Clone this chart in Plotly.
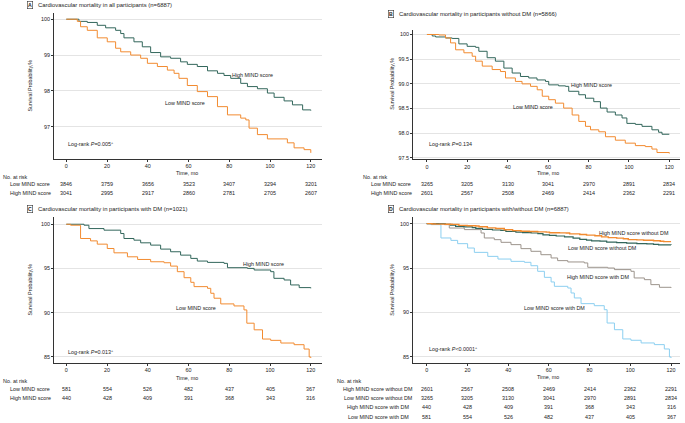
import plotly.graph_objects as go

W, H = 685, 423

# ---------------- data ----------------
# Panel A: all participants
a_high_t = [0, 6.2, 10.3, 15.2, 19.3, 24.2, 26.7, 28.3, 33.2, 37.3, 41.4, 46.3, 51.2, 56.1, 59.4, 64.3, 69.3, 74.2, 77.4, 80.7, 85.6, 88.9, 93.8, 98.7, 102.0, 106.9, 111.0, 116.0, 120]
a_high_s = [100, 99.94, 99.91, 99.83, 99.76, 99.69, 99.60, 99.48, 99.37, 99.23, 99.07, 98.95, 98.91, 98.81, 98.74, 98.68, 98.56, 98.49, 98.43, 98.35, 98.21, 98.12, 98.06, 97.94, 97.82, 97.72, 97.61, 97.47, 97.45]
a_low_t = [0, 5.4, 7.0, 10.3, 15.2, 20.1, 24.2, 26.7, 31.6, 36.5, 39.8, 44.7, 49.6, 52.9, 55.3, 59.4, 64.3, 69.3, 74.2, 79.1, 85.6, 88.1, 89.7, 93.8, 98.7, 108.5, 111.8, 116.7, 120]
a_low_s = [100, 99.94, 99.79, 99.69, 99.48, 99.37, 99.19, 99.09, 99.00, 98.91, 98.77, 98.68, 98.58, 98.49, 98.35, 98.15, 97.98, 97.84, 97.56, 97.33, 97.24, 97.19, 96.96, 96.78, 96.66, 96.55, 96.41, 96.36, 96.27]

# Panel B: participants without DM
b_high_t = [0, 2.6, 4.3, 9.2, 12.5, 15.8, 19.9, 24.1, 25.7, 29.8, 33.9, 38.1, 42.2, 46.3, 50.4, 54.5, 58.7, 60.3, 65.2, 68.6, 70.2, 75.2, 78.5, 82.6, 85.9, 89.2, 93.3, 96.6, 99.0, 103.2, 106.5, 111.4, 114.7, 116.4, 120]
b_high_s = [100, 99.97, 99.95, 99.93, 99.92, 99.81, 99.76, 99.74, 99.66, 99.53, 99.46, 99.32, 99.22, 99.15, 99.12, 99.08, 99.05, 98.98, 98.96, 98.95, 98.85, 98.78, 98.71, 98.64, 98.51, 98.43, 98.37, 98.31, 98.20, 98.18, 98.14, 98.07, 98.02, 97.98, 97.98]
b_low_t = [0, 5.9, 9.2, 11.7, 14.2, 18.3, 22.4, 24.1, 27.4, 32.3, 36.4, 38.9, 43.8, 47.1, 51.3, 54.6, 57.1, 60.3, 63.6, 67.7, 71.9, 75.2, 78.5, 81.0, 85.1, 88.4, 93.3, 98.2, 103.2, 108.1, 111.4, 113.9, 120]
b_low_s = [100, 99.99, 99.93, 99.83, 99.69, 99.63, 99.56, 99.46, 99.36, 99.29, 99.25, 99.12, 99.05, 99.00, 98.95, 98.88, 98.75, 98.68, 98.61, 98.51, 98.37, 98.24, 98.14, 98.07, 98.03, 97.93, 97.86, 97.80, 97.75, 97.73, 97.68, 97.61, 97.59]

# Panel C: participants with DM
c_high_t = [0, 8.7, 11.1, 18.5, 26.7, 28.3, 33.2, 36.5, 41.4, 46.3, 51.2, 56.1, 61.1, 64.3, 69.3, 77.4, 79.1, 88.9, 92.2, 100.3, 101.9, 106.9, 110.1, 114.3, 120]
c_high_s = [100, 99.89, 99.51, 99.33, 98.95, 98.39, 98.20, 97.90, 97.64, 97.19, 96.89, 96.51, 96.14, 95.84, 95.69, 95.58, 95.09, 95.01, 94.83, 94.64, 93.89, 93.70, 93.14, 92.84, 92.76]
c_low_t = [0, 2.1, 7.0, 11.9, 15.2, 20.1, 23.4, 30.0, 35.0, 41.4, 48.0, 51.2, 54.5, 57.8, 61.1, 62.7, 69.3, 70.9, 72.5, 75.8, 82.3, 87.2, 88.6, 92.2, 96.3, 100.3, 105.3, 111.8, 116.7, 119.2, 120]
c_low_s = [100, 99.89, 98.39, 98.12, 97.75, 97.26, 96.77, 96.32, 96.02, 95.76, 95.65, 95.27, 94.64, 93.96, 93.44, 92.95, 92.76, 92.20, 91.64, 91.00, 90.77, 90.32, 88.82, 88.07, 87.03, 86.88, 86.58, 86.39, 85.90, 85.00, 84.89]

risk_months = [0, 20, 40, 60, 80, 100, 120]
risk_a_low = [3846, 3759, 3656, 3523, 3407, 3294, 3201]
risk_a_high = [3041, 2995, 2917, 2860, 2781, 2705, 2607]
risk_b_low = [3265, 3205, 3130, 3041, 2970, 2891, 2834]
risk_b_high = [2601, 2567, 2508, 2469, 2414, 2362, 2291]
risk_c_low = [581, 554, 526, 482, 437, 405, 367]
risk_c_high = [440, 428, 409, 391, 368, 343, 316]

# ---------------- style ----------------
GREEN = "#32665B"
ORANGE = "#F28B30"
GRAY = "#9C948C"
BLUE = "#8CCFF0"
TXT = "#222222"
FONT = "Liberation Sans, Arial, sans-serif"
FS = 5.4
FS_TITLE = 5.9


def px(x):
    return x / W


def py(y):
    return 1 - y / H


fig = go.Figure()


def add_line(t, s, color, ax, width=1.0):
    fig.add_trace(go.Scatter(x=t, y=s, mode="lines", line=dict(color=color, width=width, shape="hv"),
                             xaxis="x" + ax, yaxis="y" + ax, hoverinfo="skip", showlegend=False))


add_line(a_high_t, a_high_s, GREEN, "")
add_line(a_low_t, a_low_s, ORANGE, "")
add_line(b_high_t, b_high_s, GREEN, "2")
add_line(b_low_t, b_low_s, ORANGE, "2")
add_line(c_high_t, c_high_s, GREEN, "3")
add_line(c_low_t, c_low_s, ORANGE, "3")
add_line(c_low_t, c_low_s, BLUE, "4", 1.0)
add_line(c_high_t, c_high_s, GRAY, "4", 1.0)
add_line(b_low_t, b_low_s, GREEN, "4", 1.2)
add_line(b_high_t, b_high_s, ORANGE, "4", 1.4)

axis_common = dict(showline=True, linecolor="#333333", linewidth=1, ticks="outside", ticklen=2,
                   tickwidth=0.7, tickcolor="#333333", tickfont=dict(size=FS, color=TXT, family=FONT),
                   zeroline=False)
xcommon = dict(axis_common, showgrid=False, tickvals=risk_months)
ycommon = dict(axis_common, showgrid=True, gridcolor="#E4E4E4", gridwidth=0.8)

layout = dict(
    width=W, height=H, margin=dict(l=0, r=0, t=0, b=0), paper_bgcolor="white", plot_bgcolor="white",
    font=dict(family=FONT, size=FS, color=TXT), showlegend=False,
    xaxis=dict(xcommon, domain=[px(54), px(322)], range=[-6.04, 125.5], anchor="y"),
    yaxis=dict(ycommon, domain=[py(159.5), py(13.3)], range=[96.106, 100.167], anchor="x",
               tickvals=[100, 99, 98, 97], ticktext=["100", "99", "98", "97"]),
    xaxis2=dict(xcommon, domain=[px(413), px(680)], range=[-6.9, 125.3], anchor="y2"),
    yaxis2=dict(ycommon, domain=[py(160), py(30)], range=[97.474, 100.094], anchor="x2",
                tickvals=[100, 99.5, 99.0, 98.5, 98.0, 97.5],
                ticktext=["100", "99.5", "99.0", "98.5", "98.0", "97.5"]),
    xaxis3=dict(xcommon, domain=[px(54), px(322)], range=[-6.04, 125.5], anchor="y3"),
    yaxis3=dict(ycommon, domain=[py(364.7), py(218.3)], range=[84.325, 100.787], anchor="x3",
                tickvals=[100, 95, 90, 85], ticktext=["100", "95", "90", "85"]),
    xaxis4=dict(xcommon, domain=[px(413), px(680)], range=[-6.72, 124.4], anchor="y4"),
    yaxis4=dict(ycommon, domain=[py(364.7), py(218.3)], range=[84.325, 100.72], anchor="x4",
                tickvals=[100, 95, 90, 85], ticktext=["100", "95", "90", "85"]),
)
fig.update_layout(**layout)

ann = []


def paper_text(x, y, text, xanchor="left", size=FS, **kw):
    ann.append(dict(x=px(x), y=py(y), xref="paper", yref="paper", text=text, showarrow=False,
                    xanchor=xanchor, yanchor="middle", font=dict(size=size, color=TXT, family=FONT), **kw))


def data_text(ax, x, y, text, xanchor="center"):
    ann.append(dict(x=x, y=y, xref="x" + ax, yref="y" + ax, text=text, showarrow=False,
                    xanchor=xanchor, yanchor="middle", font=dict(size=FS, color=TXT, family=FONT)))


# panel titles
titles = [(30, 5, "A", "Cardiovascular mortality in all participants (n=6887)"),
          (391.3, 14.3, "B", "Cardiovascular mortality in participants without DM (n=5866)"),
          (30, 209.8, "C", "Cardiovascular mortality in participants with DM (n=1021)"),
          (391.3, 209.8, "D", "Cardiovascular mortality in participants with/without DM (n=6887)")]
for bx, by, letter, ttl in titles:
    paper_text(bx, by, "<b>" + letter + "</b>", xanchor="center", size=5.2,
               bordercolor="#333333", borderwidth=0.6, borderpad=0.3)
    paper_text(bx + 5.5, by, ttl, size=FS_TITLE)

# y-axis titles
for x, y in [(30, 86), (391.7, 84.5), (30, 291), (391.7, 291.5)]:
    paper_text(x, y, "Survival Probability,%", xanchor="center", textangle=-90)

# x-axis titles
for x, y in [(186.7, 173.8), (548, 173.8), (187, 379.5), (548, 379.0)]:
    paper_text(x, y, "Time, mo", xanchor="center")

# curve labels
data_text("", 91.5, 98.45, "High MIND score")
data_text("", 58.3, 97.65, "Low MIND score")
data_text("", 0, 96.51, "Log-rank <i>P</i>=0.005<sup>+</sup>", xanchor="left")
data_text("2", 81.6, 98.97, "High MIND score")
data_text("2", 52.7, 98.53, "Low MIND score")
data_text("2", 0, 97.78, "Log-rank <i>P</i>=0.134", xanchor="left")
data_text("3", 97.0, 95.53, "High MIND score")
data_text("3", 63.7, 90.58, "Low MIND score")
data_text("3", 0, 85.6, "Log-rank <i>P</i>=0.013<sup>+</sup>", xanchor="left")
data_text("4", 101.7, 98.95, "High MIND score without DM")
data_text("4", 86.4, 97.23, "Low MIND score without DM")
data_text("4", 84.5, 94.04, "High MIND score with DM")
data_text("4", 62.9, 90.52, "Low MIND score with DM")
data_text("4", 0, 85.9, "Log-rank <i>P</i><0.0001<sup>+</sup>", xanchor="left")


# risk tables
def risk_row(ax, y, values):
    for m, v in zip(risk_months, values):
        ann.append(dict(x=m, y=py(y), xref="x" + ax, yref="paper", text=str(v), showarrow=False,
                        xanchor="center", yanchor="middle", font=dict(size=FS, color=TXT, family=FONT)))


paper_text(0.5, 177.7, "No. at risk")
paper_text(8.3, 185, "Low MIND score")
paper_text(8.3, 194.3, "High MIND score")
risk_row("", 185, risk_a_low)
risk_row("", 194.3, risk_a_high)

paper_text(360.7, 177.7, "No. at risk")
paper_text(369.3, 185, "Low MIND score")
paper_text(369.3, 194.3, "High MIND score")
risk_row("2", 185, risk_b_low)
risk_row("2", 194.3, risk_b_high)

paper_text(0.5, 382.7, "No. at risk")
paper_text(8.3, 390.7, "Low MIND score")
paper_text(8.3, 400, "High MIND score")
risk_row("3", 390.7, risk_c_low)
risk_row("3", 400, risk_c_high)

paper_text(334.5, 382.7, "No. at risk")
d_rows = [(390.7, "High MIND score without DM", risk_b_high),
          (400, "Low MIND score without DM", risk_b_low),
          (409.3, "High MIND score with DM", risk_c_high),
          (418.5, "Low MIND score with DM", risk_c_low)]
for y, lab, vals in d_rows:
    paper_text(378, y, lab, xanchor="center")
    risk_row("4", y, vals)

fig.update_layout(annotations=ann)
fig.write_html("out.html", config={"displayModeBar": False},
               post_script="document.body.style.margin='0';document.body.style.padding='0';"
                           "document.documentElement.style.overflow='hidden';")
